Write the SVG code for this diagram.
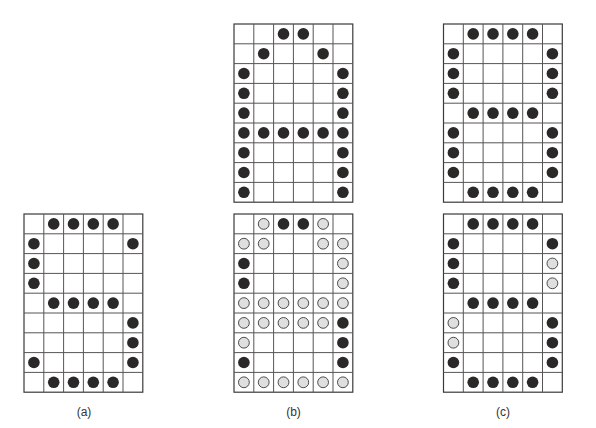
<svg xmlns="http://www.w3.org/2000/svg" xmlns:xlink="http://www.w3.org/1999/xlink" width="596" height="428" viewBox="0 0 596 428">
<style>
.bg{fill:#fff}
.frame{fill:#fff;stroke:#3a3a3a;stroke-width:1.2}
.ln{stroke:#555;stroke-width:1}
.k{fill:#2b2927}
.g{fill:#dde0dd;stroke:#3a3a3a;stroke-width:0.9}
.lbl{font-family:"Liberation Sans",Arial,sans-serif;font-size:12px;fill:#333;text-anchor:middle}
</style>
<defs>
<g id="grid">
<rect class="frame" x="0" y="0" width="118.8" height="178.2"/>
<path class="ln" d="M19.8 0V178.2M39.6 0V178.2M59.4 0V178.2M79.2 0V178.2M99 0V178.2M0 19.8H118.8M0 39.6H118.8M0 59.4H118.8M0 79.2H118.8M0 99H118.8M0 118.8H118.8M0 138.6H118.8M0 158.4H118.8"/>
</g>
<circle id="kd" class="k" r="5.8"/>
<circle id="gd" class="g" r="5.4"/>
</defs>
<rect class="bg" width="596" height="428"/>

<g id="grid-a" transform="translate(24,214)">
<use xlink:href="#grid"/>
<use xlink:href="#kd" x="29.7" y="9.9"/><use xlink:href="#kd" x="49.5" y="9.9"/><use xlink:href="#kd" x="69.3" y="9.9"/><use xlink:href="#kd" x="89.1" y="9.9"/>
<use xlink:href="#kd" x="9.9" y="29.7"/><use xlink:href="#kd" x="108.9" y="29.7"/>
<use xlink:href="#kd" x="9.9" y="49.5"/>
<use xlink:href="#kd" x="9.9" y="69.3"/>
<use xlink:href="#kd" x="29.7" y="89.1"/><use xlink:href="#kd" x="49.5" y="89.1"/><use xlink:href="#kd" x="69.3" y="89.1"/><use xlink:href="#kd" x="89.1" y="89.1"/>
<use xlink:href="#kd" x="108.9" y="108.9"/>
<use xlink:href="#kd" x="108.9" y="128.7"/>
<use xlink:href="#kd" x="9.9" y="148.5"/><use xlink:href="#kd" x="108.9" y="148.5"/>
<use xlink:href="#kd" x="29.7" y="168.3"/><use xlink:href="#kd" x="49.5" y="168.3"/><use xlink:href="#kd" x="69.3" y="168.3"/><use xlink:href="#kd" x="89.1" y="168.3"/>
</g>

<g id="grid-b-top" transform="translate(234,24)">
<use xlink:href="#grid"/>
<use xlink:href="#kd" x="49.5" y="9.9"/><use xlink:href="#kd" x="69.3" y="9.9"/>
<use xlink:href="#kd" x="29.7" y="29.7"/><use xlink:href="#kd" x="89.1" y="29.7"/>
<use xlink:href="#kd" x="9.9" y="49.5"/><use xlink:href="#kd" x="108.9" y="49.5"/>
<use xlink:href="#kd" x="9.9" y="69.3"/><use xlink:href="#kd" x="108.9" y="69.3"/>
<use xlink:href="#kd" x="9.9" y="89.1"/><use xlink:href="#kd" x="108.9" y="89.1"/>
<use xlink:href="#kd" x="9.9" y="108.9"/><use xlink:href="#kd" x="29.7" y="108.9"/><use xlink:href="#kd" x="49.5" y="108.9"/><use xlink:href="#kd" x="69.3" y="108.9"/><use xlink:href="#kd" x="89.1" y="108.9"/><use xlink:href="#kd" x="108.9" y="108.9"/>
<use xlink:href="#kd" x="9.9" y="128.7"/><use xlink:href="#kd" x="108.9" y="128.7"/>
<use xlink:href="#kd" x="9.9" y="148.5"/><use xlink:href="#kd" x="108.9" y="148.5"/>
<use xlink:href="#kd" x="9.9" y="168.3"/><use xlink:href="#kd" x="108.9" y="168.3"/>
</g>

<g id="grid-b-bottom" transform="translate(234,214)">
<use xlink:href="#grid"/>
<use xlink:href="#gd" x="29.7" y="9.9"/><use xlink:href="#kd" x="49.5" y="9.9"/><use xlink:href="#kd" x="69.3" y="9.9"/><use xlink:href="#gd" x="89.1" y="9.9"/>
<use xlink:href="#gd" x="9.9" y="29.7"/><use xlink:href="#gd" x="29.7" y="29.7"/><use xlink:href="#gd" x="89.1" y="29.7"/><use xlink:href="#gd" x="108.9" y="29.7"/>
<use xlink:href="#kd" x="9.9" y="49.5"/><use xlink:href="#gd" x="108.9" y="49.5"/>
<use xlink:href="#kd" x="9.9" y="69.3"/><use xlink:href="#gd" x="108.9" y="69.3"/>
<use xlink:href="#gd" x="9.9" y="89.1"/><use xlink:href="#gd" x="29.7" y="89.1"/><use xlink:href="#gd" x="49.5" y="89.1"/><use xlink:href="#gd" x="69.3" y="89.1"/><use xlink:href="#gd" x="89.1" y="89.1"/><use xlink:href="#gd" x="108.9" y="89.1"/>
<use xlink:href="#gd" x="9.9" y="108.9"/><use xlink:href="#gd" x="29.7" y="108.9"/><use xlink:href="#gd" x="49.5" y="108.9"/><use xlink:href="#gd" x="69.3" y="108.9"/><use xlink:href="#gd" x="89.1" y="108.9"/><use xlink:href="#kd" x="108.9" y="108.9"/>
<use xlink:href="#gd" x="9.9" y="128.7"/><use xlink:href="#kd" x="108.9" y="128.7"/>
<use xlink:href="#kd" x="9.9" y="148.5"/><use xlink:href="#kd" x="108.9" y="148.5"/>
<use xlink:href="#gd" x="9.9" y="168.3"/><use xlink:href="#gd" x="29.7" y="168.3"/><use xlink:href="#gd" x="49.5" y="168.3"/><use xlink:href="#gd" x="69.3" y="168.3"/><use xlink:href="#gd" x="89.1" y="168.3"/><use xlink:href="#gd" x="108.9" y="168.3"/>
</g>

<g id="grid-c-top" transform="translate(443.5,24)">
<use xlink:href="#grid"/>
<use xlink:href="#kd" x="29.7" y="9.9"/><use xlink:href="#kd" x="49.5" y="9.9"/><use xlink:href="#kd" x="69.3" y="9.9"/><use xlink:href="#kd" x="89.1" y="9.9"/>
<use xlink:href="#kd" x="9.9" y="29.7"/><use xlink:href="#kd" x="108.9" y="29.7"/>
<use xlink:href="#kd" x="9.9" y="49.5"/><use xlink:href="#kd" x="108.9" y="49.5"/>
<use xlink:href="#kd" x="9.9" y="69.3"/><use xlink:href="#kd" x="108.9" y="69.3"/>
<use xlink:href="#kd" x="29.7" y="89.1"/><use xlink:href="#kd" x="49.5" y="89.1"/><use xlink:href="#kd" x="69.3" y="89.1"/><use xlink:href="#kd" x="89.1" y="89.1"/>
<use xlink:href="#kd" x="9.9" y="108.9"/><use xlink:href="#kd" x="108.9" y="108.9"/>
<use xlink:href="#kd" x="9.9" y="128.7"/><use xlink:href="#kd" x="108.9" y="128.7"/>
<use xlink:href="#kd" x="9.9" y="148.5"/><use xlink:href="#kd" x="108.9" y="148.5"/>
<use xlink:href="#kd" x="29.7" y="168.3"/><use xlink:href="#kd" x="49.5" y="168.3"/><use xlink:href="#kd" x="69.3" y="168.3"/><use xlink:href="#kd" x="89.1" y="168.3"/>
</g>

<g id="grid-c-bottom" transform="translate(443.5,214)">
<use xlink:href="#grid"/>
<use xlink:href="#kd" x="29.7" y="9.9"/><use xlink:href="#kd" x="49.5" y="9.9"/><use xlink:href="#kd" x="69.3" y="9.9"/><use xlink:href="#kd" x="89.1" y="9.9"/>
<use xlink:href="#kd" x="9.9" y="29.7"/><use xlink:href="#kd" x="108.9" y="29.7"/>
<use xlink:href="#kd" x="9.9" y="49.5"/><use xlink:href="#gd" x="108.9" y="49.5"/>
<use xlink:href="#kd" x="9.9" y="69.3"/><use xlink:href="#gd" x="108.9" y="69.3"/>
<use xlink:href="#kd" x="29.7" y="89.1"/><use xlink:href="#kd" x="49.5" y="89.1"/><use xlink:href="#kd" x="69.3" y="89.1"/><use xlink:href="#kd" x="89.1" y="89.1"/>
<use xlink:href="#gd" x="9.9" y="108.9"/><use xlink:href="#kd" x="108.9" y="108.9"/>
<use xlink:href="#gd" x="9.9" y="128.7"/><use xlink:href="#kd" x="108.9" y="128.7"/>
<use xlink:href="#kd" x="9.9" y="148.5"/><use xlink:href="#kd" x="108.9" y="148.5"/>
<use xlink:href="#kd" x="29.7" y="168.3"/><use xlink:href="#kd" x="49.5" y="168.3"/><use xlink:href="#kd" x="69.3" y="168.3"/><use xlink:href="#kd" x="89.1" y="168.3"/>
</g>

<g id="labels">
<text class="lbl" x="84" y="416">(a)</text>
<text class="lbl" x="293.5" y="416">(b)</text>
<text class="lbl" x="503" y="416">(c)</text>
</g>
</svg>
